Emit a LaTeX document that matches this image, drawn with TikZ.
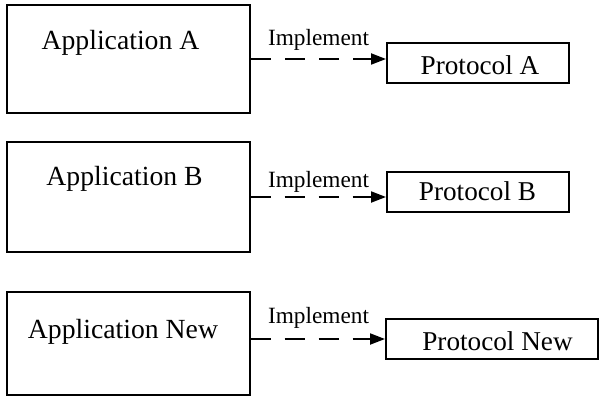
\documentclass[tikz,border=0pt]{standalone}
\usepackage{fontspec}
\setmainfont{Liberation Serif}
\usetikzlibrary{arrows.meta}
\begin{document}
\begin{tikzpicture}[x=1pt,y=-1pt,
  appbox/.style={draw=black,line width=2pt,rectangle,inner sep=0pt,minimum width=243pt},
  protbox/.style={draw=black,line width=2pt,rectangle,inner sep=0pt,minimum height=40pt},
  apptext/.style={anchor=base,inner sep=0pt,font=\fontsize{27.7}{33}\selectfont},
  prottext/.style={anchor=base,inner sep=0pt,font=\fontsize{27.2}{32}\selectfont},
  impltext/.style={anchor=base,inner sep=0pt,font=\fontsize{23.3}{28}\selectfont},
  implarrow/.style={line width=2pt,dash pattern=on 20pt off 14pt,-{Triangle[length=15pt,width=11pt]}}]
\useasboundingbox (0,0) rectangle (601,398);
% boxes
\node[appbox,minimum height=108pt] (appA) at (128.5,59) {};
\node[appbox,minimum height=110pt] (appB) at (128,197) {};
\node[appbox,minimum height=103pt] (appN) at (128,343.5) {};
\node[protbox,minimum width=182pt] (protA) at (478,63) {};
\node[protbox,minimum width=182pt] (protB) at (478,192) {};
\node[protbox,minimum width=212pt] (protN) at (492,339) {};
% texts
\node[apptext] (tA) at (120.5,50) {Application A};
\node[apptext] (tB) at (124.5,185) {Application B};
\node[apptext] (tN) at (123,338) {Application New};
\node[prottext] (pA) at (480,75) {Protocol A};
\node[prottext] (pB) at (477.5,200) {Protocol B};
\node[prottext] (pN) at (497.5,350) {Protocol New};
\node[impltext] (iA) at (318.5,46) {Implement};
\node[impltext] (iB) at (318.5,187) {Implement};
\node[impltext] (iN) at (318.5,323) {Implement};
% arrows
\draw[implarrow] (appA.east) -- (appA.east -| protA.west);
\draw[implarrow] (appB.east) -- (appB.east -| protB.west);
\draw[implarrow] (appN.east |- protN.west) -- (protN.west);
\end{tikzpicture}
\end{document}
